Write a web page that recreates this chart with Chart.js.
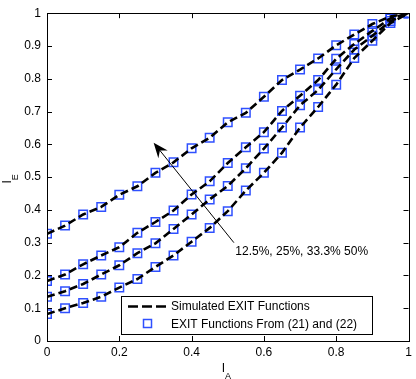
<!DOCTYPE html>
<html>
<head>
<meta charset="utf-8">
<script src="https://cdn.jsdelivr.net/npm/chart.js@4.4.1/dist/chart.umd.min.js"></script>
<style>
  html, body { margin: 0; padding: 0; background: #fff; }
  #wrap { width: 416px; height: 379px; position: relative; }
</style>
</head>
<body>
<div id="wrap"><canvas id="myChart"></canvas></div>
<script>
// I_A 값 (0 ~ 1, 0.05 간격)
const iaValues = [0, 0.05, 0.1, 0.15, 0.2, 0.25, 0.3, 0.35, 0.4, 0.45, 0.5,
  0.55, 0.6, 0.65, 0.7, 0.75, 0.8, 0.85, 0.9, 0.95, 1];

// 곡선별 I_E 값 (아래 -> 위)
const ie125 = [0.082, 0.100, 0.116, 0.135, 0.163, 0.189, 0.226, 0.261, 0.303, 0.345, 0.396,
  0.459, 0.513, 0.574, 0.651, 0.714, 0.782, 0.863, 0.916, 0.970, 1.0];
const ie25 = [0.135, 0.152, 0.174, 0.203, 0.231, 0.268, 0.298, 0.342, 0.386, 0.432, 0.473,
  0.527, 0.587, 0.651, 0.719, 0.766, 0.829, 0.889, 0.931, 0.976, 1.0];
const ie333 = [0.183, 0.203, 0.234, 0.261, 0.286, 0.330, 0.363, 0.398, 0.447, 0.487, 0.543,
  0.591, 0.637, 0.702, 0.748, 0.796, 0.861, 0.906, 0.946, 0.984, 1.0];
const ie50 = [0.327, 0.352, 0.386, 0.409, 0.446, 0.472, 0.513, 0.545, 0.588, 0.620, 0.667,
  0.696, 0.745, 0.796, 0.828, 0.862, 0.902, 0.935, 0.967, 0.990, 1.0];

const seriesList = [ie125, ie25, ie333, ie50];
const seriesNames = ['12.5%', '25%', '33.3%', '50%'];
const legendLabels = ['Simulated EXIT Functions', 'EXIT Functions From (21) and (22)'];
const arrowText = '12.5%, 25%, 33.3% 50%';

const xTicks = [0, 0.2, 0.4, 0.6, 0.8, 1];
const yTicks = [0, 0.1, 0.2, 0.3, 0.4, 0.5, 0.6, 0.7, 0.8, 0.9, 1];

const FONT = '"Liberation Sans", Arial, Helvetica, sans-serif';
const BLUE = '#2f50ff';
const DASH = [8, 4];

function toPoints(ys){
  return ys.map((y, i) => ({x: iaValues[i], y: y}));
}

let datasets = [];
// 시뮬레이션 곡선 (점선)
seriesList.forEach((ys, i) => {
  datasets.push({
    label: legendLabels[0] + ' ' + seriesNames[i],
    data: toPoints(ys),
    showLine: true,
    borderColor: '#000',
    borderWidth: 2.6,
    borderDash: DASH,
    pointRadius: 0,
    tension: 0,
    fill: false
  });
});
// 계산 값 (네모 마커)
seriesList.forEach((ys, i) => {
  datasets.push({
    label: legendLabels[1] + ' ' + seriesNames[i],
    data: toPoints(ys),
    showLine: false,
    pointStyle: 'rect',
    pointRadius: 6,
    pointBorderWidth: 1.5,
    pointBorderColor: BLUE,
    pointBackgroundColor: 'rgba(0,0,0,0)'
  });
});

// 박스, 안쪽 눈금, 축 제목, 화살표, 범례
const matlabAxes = {
  id: 'matlabAxes',
  afterDraw(chart){
    const c = chart.ctx;
    const a = chart.chartArea;
    const xs = chart.scales.x;
    const ys = chart.scales.y;
    c.save();

    // 테두리
    c.strokeStyle = '#000';
    c.lineWidth = 1;
    c.setLineDash([]);
    c.strokeRect(Math.round(a.left) + 0.5, Math.round(a.top) + 0.5,
      Math.round(a.right - a.left), Math.round(a.bottom - a.top));

    // 눈금 (안쪽)
    const tl = 5;
    c.beginPath();
    xTicks.forEach(v => {
      const px = Math.round(xs.getPixelForValue(v)) + 0.5;
      c.moveTo(px, a.bottom); c.lineTo(px, a.bottom - tl);
      c.moveTo(px, a.top); c.lineTo(px, a.top + tl);
    });
    yTicks.forEach(v => {
      const py = Math.round(ys.getPixelForValue(v)) + 0.5;
      c.moveTo(a.left, py); c.lineTo(a.left + tl, py);
      c.moveTo(a.right, py); c.lineTo(a.right - tl, py);
    });
    c.stroke();

    // 축 제목 I_A
    c.fillStyle = '#000';
    c.textBaseline = 'alphabetic';
    c.textAlign = 'left';
    const midX = xs.getPixelForValue(0.5);
    c.font = '12px ' + FONT;
    c.fillText('I', midX - 6, 372);
    const wI = c.measureText('I').width;
    c.font = '9px ' + FONT;
    c.fillText('A', midX - 6 + wI, 378.5);

    // 축 제목 I_E
    const midY = ys.getPixelForValue(0.5);
    c.save();
    c.translate(11, midY + 6.5);
    c.rotate(-Math.PI / 2);
    c.font = '12px ' + FONT;
    c.fillText('I', 0, 0);
    c.font = '9px ' + FONT;
    c.fillText('E', wI, 7);
    c.restore();

    // 화살표
    const x0 = xs.getPixelForValue(0.517), y0 = ys.getPixelForValue(0.300);
    const x1 = xs.getPixelForValue(0.295), y1 = ys.getPixelForValue(0.605);
    const ang = Math.atan2(y1 - y0, x1 - x0);
    c.strokeStyle = '#000';
    c.lineWidth = 1;
    c.beginPath();
    c.moveTo(x0, y0);
    c.lineTo(x1 - Math.cos(ang) * 8, y1 - Math.sin(ang) * 8);
    c.stroke();
    const hl = 15, hw = 6, back = 10;
    c.save();
    c.translate(x1, y1);
    c.rotate(ang);
    c.beginPath();
    c.moveTo(0, 0);
    c.lineTo(-hl, -hw);
    c.lineTo(-back, 0);
    c.lineTo(-hl, hw);
    c.closePath();
    c.fill();
    c.restore();

    c.font = '12px ' + FONT;
    c.textBaseline = 'middle';
    c.fillText(arrowText, xs.getPixelForValue(0.521), ys.getPixelForValue(0.272));

    // 범례
    const lx = 121, ly = 296, lw = 251, lh = 38;
    c.fillStyle = '#fff';
    c.fillRect(lx, ly, lw, lh);
    c.strokeStyle = '#000';
    c.strokeRect(lx + 0.5, ly + 0.5, lw, lh);

    c.lineWidth = 2.6;
    c.setLineDash([10, 4]);
    c.beginPath();
    c.moveTo(128, 306.5);
    c.lineTo(166, 306.5);
    c.stroke();
    c.setLineDash([]);

    c.lineWidth = 1.5;
    c.strokeStyle = BLUE;
    c.strokeRect(143.5, 319.5, 8, 8);

    c.fillStyle = '#000';
    c.font = '12px ' + FONT;
    c.textBaseline = 'middle';
    c.fillText(legendLabels[0], 171, 306.5);
    c.fillText(legendLabels[1], 171, 324.5);

    c.restore();
  }
};

const tickFont = {family: FONT, size: 12};

let config = {
  type: 'scatter',
  data: {datasets: datasets},
  options: {
    responsive: true,
    maintainAspectRatio: false,
    animation: false,
    layout: {
      padding: {top: 4, right: 7, left: 0, bottom: 0}
    },
    plugins: {
      legend: {display: false},
      tooltip: {enabled: false}
    },
    scales: {
      x: {
        type: 'linear',
        min: 0,
        max: 1,
        afterFit: (s) => { s.height = 38; },
        afterBuildTicks: (s) => { s.ticks = xTicks.map(v => ({value: v})); },
        grid: {display: false, drawTicks: false, tickLength: 0},
        border: {display: false},
        ticks: {
          color: '#000',
          font: tickFont,
          padding: 4,
          maxRotation: 0,
          callback: (v) => String(+v.toFixed(1))
        }
      },
      y: {
        type: 'linear',
        min: 0,
        max: 1,
        afterFit: (s) => { s.width = 47; },
        afterBuildTicks: (s) => { s.ticks = yTicks.map(v => ({value: v})); },
        grid: {display: false, drawTicks: false, tickLength: 0},
        border: {display: false},
        ticks: {
          color: '#000',
          font: tickFont,
          padding: 6,
          callback: (v) => String(+v.toFixed(1))
        }
      }
    }
  },
  plugins: [matlabAxes]
};

let ctx = document.getElementById('myChart');
let myChart = new Chart(ctx, config);
</script>
</body>
</html>
